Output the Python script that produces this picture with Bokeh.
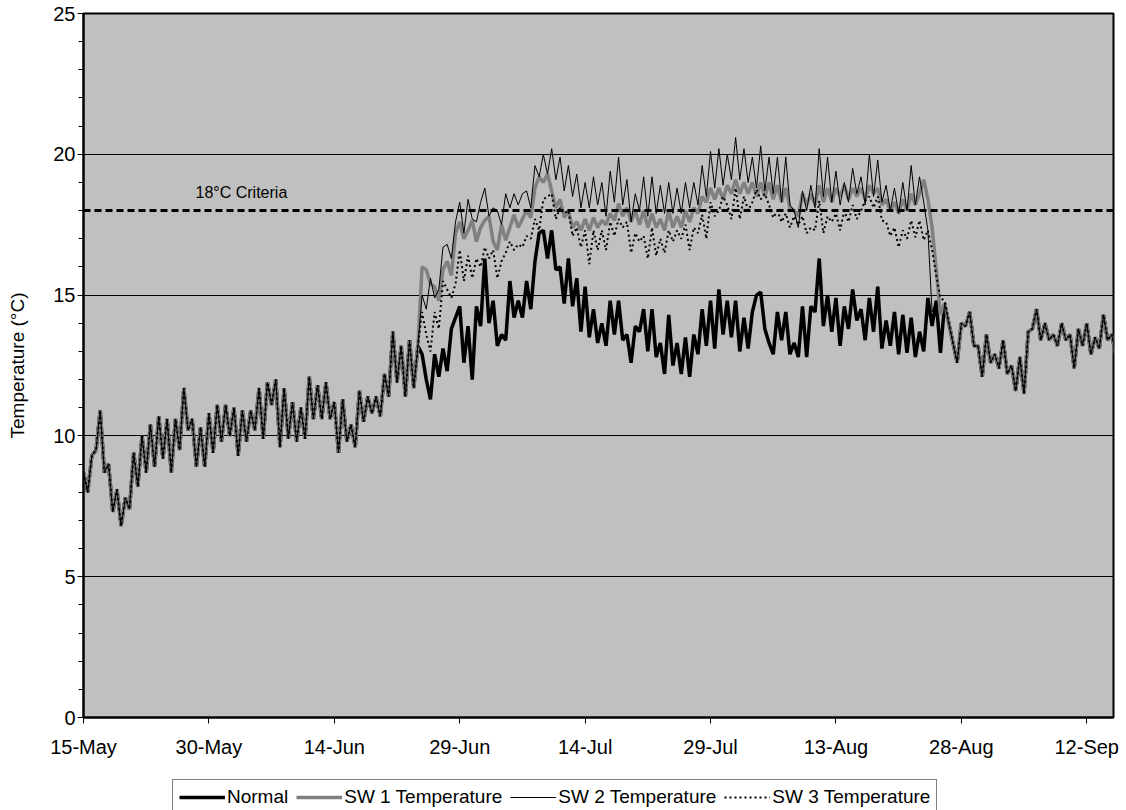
import pandas as pd
from bokeh.plotting import figure
from bokeh.layouts import column
from bokeh.models import (Range1d, SingleIntervalTicker, FixedTicker, DatetimeTickFormatter,
                          Span, Label, Legend, LegendItem)
from bokeh.embed import file_html
from bokeh.resources import INLINE

# ---------------- data ----------------
START = "2007-05-15"          # first sample (half-day sampling)
STEP = "12h"
X_END_DAYS = 123.2            # right edge of the chart, days after START
tick_labels = ["15-May", "30-May", "14-Jun", "29-Jun", "14-Jul", "29-Jul", "13-Aug", "28-Aug", "12-Sep"]
CRITERIA = 18.0
series_names = ["Normal", "SW 1 Temperature", "SW 2 Temperature", "SW 3 Temperature"]

# 15-May .. 24-Jun : all four series coincide
early_common = [
    8.7, 8.0, 9.3, 9.5, 10.9, 8.7, 9.0, 7.3, 8.1, 6.8,
    7.8, 7.4, 9.4, 8.2, 10.0, 8.7, 10.4, 8.9, 10.7, 9.2,
    10.6, 8.7, 10.6, 9.5, 11.7, 10.2, 10.6, 8.9, 10.3, 8.9,
    10.8, 9.4, 11.1, 9.8, 11.1, 10.0, 11.0, 9.3, 10.9, 9.8,
    10.9, 10.2, 11.7, 9.9, 11.9, 11.1, 12.0, 9.6, 11.7, 9.9,
    11.2, 9.8, 11.0, 9.9, 12.1, 10.6, 11.8, 10.6, 11.9, 10.6,
    11.2, 9.4, 11.3, 9.8, 10.4, 9.6, 11.6, 10.5, 11.4, 10.8,
    11.4, 10.7, 12.2, 11.4, 13.7, 11.9, 13.2, 11.4, 13.4, 11.7,
    13.2,
]

# 24-Jun .. 27-Aug : series differ
normal_mid = [
    12.9, 12.0, 11.3, 12.9, 12.1, 13.1, 12.3, 13.8, 14.2, 14.6,
    12.6, 13.9, 12.0, 14.6, 13.9, 16.3, 14.0, 14.8, 13.2, 13.6,
    13.4, 15.5, 14.2, 14.8, 14.2, 15.5, 14.5, 16.2, 17.2, 17.3,
    16.3, 17.3, 15.9, 16.0, 14.7, 16.3, 14.6, 15.6, 13.7, 15.3,
    13.5, 14.5, 13.3, 14.0, 13.2, 14.8, 13.6, 14.8, 13.4, 13.6,
    12.6, 13.9, 13.7, 14.5, 13.0, 14.5, 12.8, 13.3, 12.2, 14.3,
    12.5, 13.3, 12.2, 13.5, 12.1, 13.6, 12.9, 14.5, 13.2, 14.8,
    13.1, 15.2, 13.6, 14.8, 13.5, 14.8, 13.0, 14.2, 13.1, 14.4,
    15.0, 15.1, 13.8, 13.3, 12.9, 14.4, 13.4, 14.4, 12.9, 13.3,
    12.8, 14.6, 12.8, 14.6, 14.4, 16.3, 13.9, 15.0, 13.7, 14.9,
    13.2, 14.6, 13.8, 15.2, 14.1, 14.5, 13.4, 14.9, 13.7, 15.3,
    13.1, 14.1, 13.2, 14.4, 12.9, 14.3, 12.95, 14.2, 12.8, 13.7,
    13.0, 14.9, 13.9, 14.8, 12.95, 14.7,
]
sw1_mid = [
    16.0, 15.9, 15.4, 15.3, 14.8, 15.9, 16.2, 15.7, 17.2, 17.6,
    17.0, 17.3, 17.65, 16.9, 17.4, 17.65, 17.8, 16.9, 16.6, 17.5,
    16.95, 17.4, 17.85, 17.4, 17.7, 18.0, 17.75, 18.8, 19.2, 19.0,
    19.3, 18.7, 18.1, 18.4, 17.75, 18.0, 17.4, 17.6, 17.3, 17.7,
    17.3, 17.75, 17.4, 17.65, 17.5, 17.9, 17.65, 18.25, 17.8, 18.1,
    17.6, 18.0, 17.5, 18.0, 17.4, 17.9, 17.4, 17.7, 17.3, 18.0,
    17.4, 17.8, 17.4, 18.0, 17.6, 18.1, 17.9, 18.5, 18.3, 18.8,
    18.4, 18.8, 18.4, 18.9, 18.6, 19.1, 18.6, 19.0, 18.6, 19.0,
    18.5, 19.0, 18.5, 19.0, 18.4, 18.9, 18.3, 18.8, 18.1, 18.0,
    17.8, 18.6, 18.2, 18.6, 18.2, 18.9, 18.3, 18.8, 18.3, 18.8,
    18.5, 18.9, 18.4, 18.8, 18.5, 18.8, 18.4, 18.9, 18.6, 18.8,
    18.2, 18.4, 18.0, 18.3, 17.9, 18.4, 18.0, 18.6, 18.2, 18.6,
    19.1, 18.4, 17.4, 15.9, 14.3, 14.7,
]
sw2_mid = [
    15.0, 14.5, 15.6, 14.9, 15.2, 16.7, 16.8, 16.3, 17.6, 18.3,
    17.2, 18.4, 17.7, 17.6, 18.3, 18.8, 17.8, 18.1, 18.0, 17.5,
    18.6, 18.1, 18.6, 18.2, 18.6, 18.7, 18.1, 19.6, 19.2, 20.0,
    19.3, 20.2, 19.1, 19.9, 18.7, 19.6, 18.5, 19.3, 18.1, 19.0,
    18.1, 19.2, 18.2, 19.0, 17.8, 19.4, 18.3, 19.9, 18.2, 19.1,
    17.6, 18.6, 18.0, 19.2, 17.8, 19.2, 17.9, 18.9, 17.9, 19.0,
    17.9, 18.8, 17.9, 19.0, 18.1, 19.0, 18.2, 19.6, 18.5, 20.1,
    18.8, 20.2, 18.9, 20.0, 19.1, 20.6, 19.1, 20.2, 19.0, 19.9,
    18.8, 20.3, 18.7, 19.9, 18.6, 19.9, 18.3, 19.9, 18.2, 18.0,
    17.4, 18.7, 18.0, 18.9, 18.1, 20.2, 18.5, 19.9, 18.3, 19.4,
    18.2, 19.0, 18.3, 19.5, 18.6, 19.2, 18.2, 20.0, 18.5, 19.8,
    18.3, 18.9, 18.0, 18.8, 17.9, 19.0, 18.0, 19.6, 18.2, 19.2,
    18.3, 17.3, 14.4, 14.8, 12.95, 14.7,
]
sw3_mid = [
    14.4, 13.6, 13.0, 14.4, 13.8, 15.5, 15.2, 14.9, 15.4, 16.6,
    15.5, 16.4, 15.6, 16.3, 16.0, 16.7, 16.3, 16.6, 15.6, 16.2,
    16.5, 16.9, 16.6, 16.8, 16.7, 17.1, 17.0, 17.7, 17.3, 18.4,
    18.5, 18.6, 17.7, 18.1, 17.9, 18.0, 17.1, 17.4, 16.7, 17.3,
    16.1, 17.3, 16.6, 17.3, 16.6, 17.6, 17.1, 17.7, 17.4, 17.6,
    16.5, 17.2, 16.9, 17.1, 16.3, 17.4, 16.4, 17.0, 16.5, 17.3,
    16.9, 17.3, 17.0, 17.5, 16.6, 17.4, 17.2, 17.85, 17.0, 18.3,
    17.8, 18.0, 18.5, 18.2, 17.7, 18.8, 17.7, 18.5, 18.0, 18.3,
    18.75, 18.4, 18.6, 18.2, 17.75, 18.0, 17.6, 17.9, 17.4, 17.8,
    17.5, 17.8, 17.2, 17.4, 17.3, 18.35, 17.2, 17.8, 17.6, 17.9,
    17.3, 18.0, 17.6, 18.2, 17.7, 18.0, 18.35, 18.5, 18.1, 18.5,
    17.65, 17.6, 17.1, 17.4, 16.7, 17.3, 17.0, 17.65, 17.05, 17.65,
    16.95, 17.3, 16.6, 15.7, 14.9, 14.8,
]

# 27-Aug .. mid-Sep : series coincide again
late_common = [
    14.0, 13.3, 12.6, 14.0, 13.9, 14.4, 13.2, 13.2, 12.1, 13.6,
    12.6, 12.9, 12.4, 13.4, 12.2, 12.5, 11.6, 12.8, 11.5, 13.7,
    13.8, 14.5, 13.4, 14.0, 13.4, 13.6, 13.2, 14.0, 13.4, 13.6,
    12.4, 13.8, 13.2, 14.0, 12.9, 13.5, 13.1, 14.3, 13.4, 13.6,
    12.8,
]

normal = early_common + normal_mid + late_common
sw1 = early_common + sw1_mid + late_common
sw2 = early_common + sw2_mid + late_common
sw3 = early_common + sw3_mid + late_common
all_series = [normal, sw1, sw2, sw3]

times = pd.date_range(START, periods=len(normal), freq=STEP)
x_start = pd.Timestamp(START)
x_end = x_start + pd.Timedelta(days=X_END_DAYS)
tick_ms = [int(pd.to_datetime(f"{t}-2007", format="%d-%b-%Y").value // 10**6) for t in tick_labels]

FONT = "Liberation Sans"
W = 1126

# series styles (colour, width, dash)
styles = [
    dict(line_color="black", line_width=3.5),
    dict(line_color="#808080", line_width=3.5),
    dict(line_color="black", line_width=1),
    dict(line_color="black", line_width=2, line_dash="2 3"),
]

# ---------------- main figure ----------------
p = figure(width=W, height=770, x_axis_type="datetime",
           x_range=Range1d(x_start, x_end), y_range=Range1d(0, 25),
           output_backend="svg", toolbar_location=None,
           min_border_left=83, min_border_right=13, min_border_top=13, min_border_bottom=53)

p.background_fill_color = "#C0C0C0"
p.border_fill_color = "white"
p.outline_line_color = "black"
p.outline_line_width = 2

p.xaxis.ticker = FixedTicker(ticks=tick_ms)
fmt = "%d-%b"
p.xaxis.formatter = DatetimeTickFormatter(microseconds=fmt, milliseconds=fmt, seconds=fmt, minsec=fmt,
                                          minutes=fmt, hourmin=fmt, hours=fmt, days=fmt, months=fmt, years=fmt)
p.yaxis.ticker = SingleIntervalTicker(interval=5, num_minor_ticks=5)
for ax in (p.xaxis[0], p.yaxis[0]):
    ax.axis_line_color = "black"
    ax.axis_line_width = 2
    ax.major_tick_line_color = "black"
    ax.major_tick_line_width = 1
    ax.major_tick_in = 0
    ax.major_tick_out = 6
    ax.major_label_text_font = FONT
    ax.major_label_text_font_size = "20px"
    ax.major_label_text_color = "black"
p.xaxis.minor_tick_line_color = None
p.xaxis.major_label_standoff = 12
p.yaxis.minor_tick_line_color = "black"
p.yaxis.minor_tick_in = 0
p.yaxis.minor_tick_out = 5
p.yaxis.major_label_standoff = 2
p.yaxis.axis_label = "Temperature (°C)"
p.yaxis.axis_label_text_font = FONT
p.yaxis.axis_label_text_font_size = "19px"
p.yaxis.axis_label_text_font_style = "normal"
p.yaxis.axis_label_text_color = "black"
p.yaxis.axis_label_standoff = 22

p.xgrid.visible = False
p.ygrid.grid_line_color = "black"
p.ygrid.grid_line_width = 1

for ys, st in zip(all_series, styles):
    p.line(times, ys, **st)

p.add_layout(Span(location=CRITERIA, dimension="width", line_color="black",
                  line_width=3, line_dash="7 4"))
p.add_layout(Label(x=x_start + pd.Timedelta(days=13.4), y=CRITERIA + 0.35,
                   text="18°C Criteria", text_font=FONT, text_font_size="16px",
                   text_color="black", text_baseline="bottom"))

# ---------------- legend strip under the chart ----------------
# (its frame is aligned with the chart frame by the column layout; the key
#  renderers reuse the series but lie outside this strip's ranges)
lf = figure(width=W, height=40, x_range=Range1d(0, 1), y_range=Range1d(0, 1),
            output_backend="svg", toolbar_location=None,
            x_axis_location=None, y_axis_location=None,
            min_border_left=83, min_border_right=13, min_border_top=0, min_border_bottom=0)
lf.outline_line_color = None
lf.background_fill_color = "white"
lf.border_fill_color = "white"
lf.grid.visible = False
key_renderers = [lf.line(times, ys, **st) for ys, st in zip(all_series, styles)]

legend = Legend(items=[LegendItem(label=n, renderers=[r]) for n, r in zip(series_names, key_renderers)],
                orientation="horizontal", location=(89, -5),
                label_text_font=FONT, label_text_font_size="19px", label_text_color="black",
                glyph_width=46, glyph_height=20, label_standoff=2, spacing=8,
                padding=6, margin=0,
                border_line_color="black", border_line_width=1,
                background_fill_color="white", background_fill_alpha=1)
lf.add_layout(legend, "center")

layout = column(p, lf, spacing=0)
open("out.html", "w").write(file_html(layout, INLINE))
